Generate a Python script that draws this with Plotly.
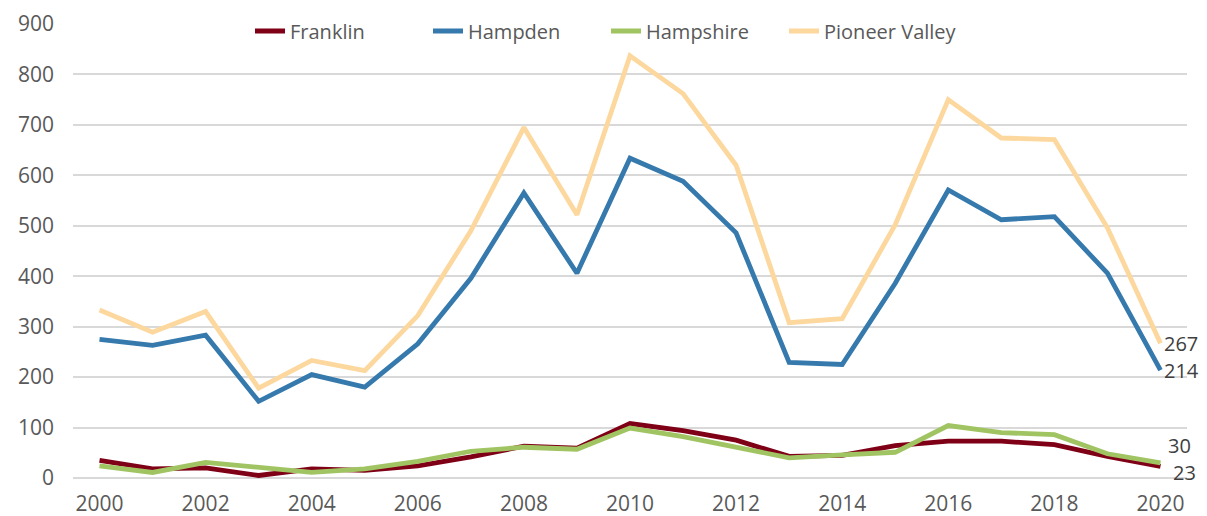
import plotly.graph_objects as go

years = list(range(2000, 2021))

franklin = [35, 18, 20, 5, 18, 15, 24, 42, 63, 59, 108, 94, 75, 43, 45, 64, 73, 73, 66, 43, 23]
hampden = [275, 263, 283, 152, 205, 180, 266, 396, 565, 406, 634, 588, 486, 229, 225, 386, 571, 512, 518, 406, 214]
hampshire = [24, 11, 31, 22, 11, 18, 33, 53, 61, 57, 99, 82, 61, 40, 46, 51, 104, 90, 86, 48, 30]
pioneer = [333, 289, 330, 178, 233, 213, 322, 490, 695, 522, 837, 762, 620, 308, 316, 502, 750, 674, 671, 496, 267]

series = [
    ("Franklin", franklin, "#7f0016"),
    ("Hampden", hampden, "#3579ad"),
    ("Hampshire", hampshire, "#a1c463"),
    ("Pioneer Valley", pioneer, "#fdd89e"),
]

# end-label offsets (pixels) so the labels do not collide
label_shift = {"Franklin": (12, -6), "Hampden": (3, 0), "Hampshire": (7, 17), "Pioneer Valley": (3, 0)}

FONT = "Open Sans, Lato, sans-serif"

# the page body has an 8px margin; size the figure so it fills the window
W, H = 1199, 508

fig = go.Figure()
for name, vals, color in series:
    fig.add_trace(go.Scatter(
        x=years, y=vals, name=name, mode="lines",
        line=dict(color=color, width=4.8),
    ))

for name, vals, color in series:
    dx, dy = label_shift[name]
    fig.add_annotation(
        x=years[-1], y=vals[-1], text=str(vals[-1]),
        xanchor="left", yanchor="middle", showarrow=False,
        xshift=dx, yshift=dy, borderpad=0,
        font=dict(family=FONT, size=20, color="#404040"),
    )

fig.update_layout(
    width=W, height=H,
    margin=dict(l=65, r=20, t=16, b=38, autoexpand=False),
    paper_bgcolor="white", plot_bgcolor="white",
    font=dict(family=FONT, size=20, color="#595959"),
    showlegend=True,
    legend=dict(
        orientation="h", xref="container", x=242 / W, xanchor="left",
        yref="container", y=1 - 23 / H, yanchor="middle",
        bgcolor="rgba(0,0,0,0)", font=dict(family=FONT, size=20, color="#595959"),
        entrywidth=133, entrywidthmode="pixels", tracegroupgap=0,
    ),
    xaxis=dict(
        range=[1999.5, 2020.5], tickmode="array", tickvals=years[::2],
        ticktext=[str(y) for y in years[::2]],
        showgrid=False, zeroline=False, showline=False, automargin=False,
        ticks="", ticklabelstandoff=11,
        tickfont=dict(family=FONT, size=21, color="#595959"),
    ),
    yaxis=dict(
        range=[0, 900], dtick=100, tick0=0, automargin=False,
        showgrid=True, gridcolor="#d9d9d9", gridwidth=1.5,
        zeroline=True, zerolinecolor="#d9d9d9", zerolinewidth=1.5,
        showline=False, ticks="", ticklabelstandoff=18,
        tickfont=dict(family=FONT, size=21, color="#595959"),
    ),
)

fig.write_html("out.html")
